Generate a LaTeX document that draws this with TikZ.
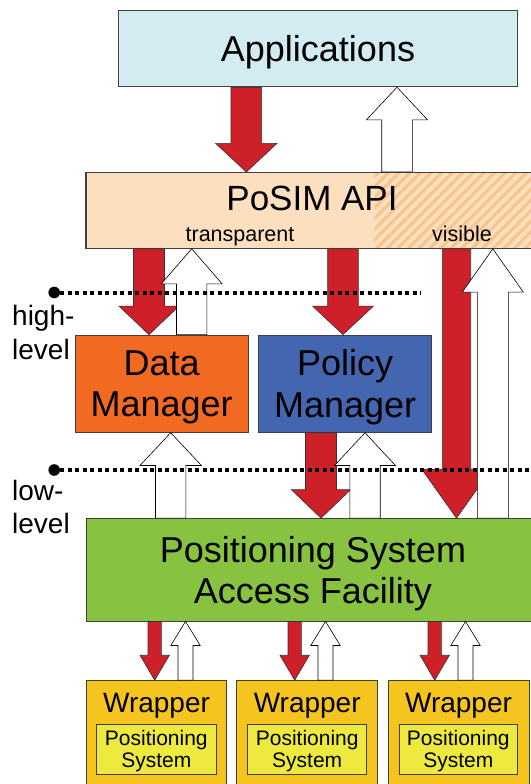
\documentclass[tikz,border=0pt]{standalone}
\usepackage{fontspec}
\setmainfont{Liberation Sans}
\usetikzlibrary{calc,patterns.meta}

\definecolor{appcol}{RGB}{210,236,241}
\definecolor{apicol}{RGB}{252,223,190}
\definecolor{hatchcol}{RGB}{248,196,142}
\definecolor{datacol}{RGB}{242,105,34}
\definecolor{policycol}{RGB}{68,101,175}
\definecolor{psafcol}{RGB}{135,194,64}
\definecolor{wrapcol}{RGB}{245,196,30}
\definecolor{pscol}{RGB}{238,233,62}
\definecolor{arrowred}{RGB}{206,32,41}

% block arrow: style, from, to, half shaft, half head, head length
\newcommand{\fatarrow}[6]{%
  \draw[#1] let \p1=(#2), \p2=(#3), \p3=($(#3)!#6!(#2)$) in
    (\x1-#4,\y1) -- (\x1-#4,\y3) -- (\x1-#5,\y3) -- (\x1,\y2)
    -- (\x1+#5,\y3) -- (\x1+#4,\y3) -- (\x1+#4,\y1) -- cycle;}

\tikzset{
  box/.style       = {draw=black!75, line width=0.8pt, inner sep=0pt, align=center, text depth=0pt},
  bigtext/.style   = {font=\fontsize{36}{41.7}\selectfont},
  smalltext/.style = {font=\fontsize{21.5}{24}\selectfont, inner sep=0pt},
  sidetext/.style  = {font=\fontsize{28}{33}\selectfont, inner sep=0pt},
  wraptext/.style  = {font=\fontsize{28}{32}\selectfont, inner sep=0pt},
  pstext/.style    = {font=\fontsize{21}{22.6}\selectfont},
  redarrow/.style  = {fill=arrowred, draw=black!80, line width=0.6pt},
  whitearrow/.style= {fill=white, draw=black, line width=0.6pt},
  dot/.style       = {circle, fill=black, inner sep=0pt, minimum size=11.6pt},
  levelline/.style = {line width=4pt, dash pattern=on 4pt off 3.5pt}
}

\begin{document}
\begin{tikzpicture}[x=1pt, y=-1pt]
  \useasboundingbox (0,0) rectangle (530,784);

  % layers
  \node[box, bigtext, fill=appcol, minimum width=399pt, minimum height=76pt] (app) at (318,48.8) {Applications};

  \node[box, fill=apicol, minimum width=454pt, minimum height=76pt] (api) at (313,210.4) {};
  \fill[pattern={Lines[angle=45,distance=7.5pt,line width=3pt]}, pattern color=hatchcol]
    ([xshift=289pt]api.north west) rectangle (api.south east);
  \draw[draw=black!75, line width=0.8pt] (api.north west) rectangle (api.south east);
  \node[font=\fontsize{35}{40}\selectfont, inner sep=0pt, anchor=base] (apititle) at (312,210.7) {PoSIM API};
  \node[smalltext, anchor=base] (transp) at (240,241) {transparent};
  \node[smalltext, anchor=base] (visib)  at (462,241) {visible};

  \node[box, bigtext, fill=datacol,   minimum width=173.5pt, minimum height=97.3pt] (dm) at (161.7,383.7) {Data\\Manager};
  \node[box, bigtext, fill=policycol, minimum width=173pt,   minimum height=97.3pt] (pm) at (345.2,383.7) {Policy\\Manager};

  \node[box, bigtext, fill=psafcol, minimum width=454pt, minimum height=102.5pt] (psaf) at (313,569.8) {Positioning System\\Access Facility};

  \node[box, fill=wrapcol, minimum width=140pt, minimum height=119.3pt] (w1) at (156.7,740.3) {};
  \node[box, fill=wrapcol, minimum width=141pt, minimum height=119.3pt] (w2) at (307.2,740.3) {};
  \node[box, fill=wrapcol, minimum width=140.7pt, minimum height=119.3pt] (w3) at (458.7,740.3) {};
  \node[wraptext, anchor=base] (w1t) at (156.5,712.7) {Wrapper};
  \node[wraptext, anchor=base] (w2t) at (307.2,712.7) {Wrapper};
  \node[wraptext, anchor=base] (w3t) at (458.5,712.7) {Wrapper};
  \node[box, pstext, fill=pscol, minimum width=119.3pt, minimum height=50pt] (ps1) at (156.3,749) {Positioning\\System};
  \node[box, pstext, fill=pscol, minimum width=119pt,   minimum height=50pt] (ps2) at (307.2,749) {Positioning\\System};
  \node[box, pstext, fill=pscol, minimum width=118.7pt, minimum height=50pt] (ps3) at (458.3,749) {Positioning\\System};

  % arrow columns
  \coordinate (appdown)  at (246.3,0);
  \coordinate (appup)    at (397,0);
  \coordinate (dmdown)   at (149,0);
  \coordinate (dmup)     at (191.7,0);
  \coordinate (pmdown)   at (343,0);
  \coordinate (visdown)  at (456.5,0);
  \coordinate (visup)    at (492.8,0);
  \coordinate (psdown)   at (321,0);
  \coordinate (psup)     at (365,0);
  \coordinate (psdmup)   at (170.7,0);
  \coordinate (w1down)   at (154.7,0);
  \coordinate (w2down)   at (294.7,0);
  \coordinate (w3down)   at (434.7,0);
  \coordinate (w1up)     at (185.5,0);
  \coordinate (w2up)     at (325.5,0);
  \coordinate (w3up)     at (465.5,0);

  % red arrows
  \fatarrow{redarrow}{app.south -| appdown}{api.north -| appdown}{15.3pt}{30.8pt}{28.7pt}
  \fatarrow{redarrow}{api.south -| dmdown}{dm.north -| dmdown}{15.5pt}{30pt}{28.5pt}
  \fatarrow{redarrow}{api.south -| pmdown}{pm.north -| pmdown}{15.3pt}{30.4pt}{28.5pt}
  \fatarrow{redarrow}{api.south -| visdown}{psaf.north -| visdown}{14.2pt}{34.8pt}{49pt}
  \fatarrow{redarrow}{pm.south -| psdown}{psaf.north -| psdown}{15.5pt}{29.7pt}{28.5pt}
  \fatarrow{redarrow}{psaf.south -| w1down}{w1.north -| w1down}{6.7pt}{14.7pt}{25pt}
  \fatarrow{redarrow}{psaf.south -| w2down}{w2.north -| w2down}{6.7pt}{14.7pt}{25pt}
  \fatarrow{redarrow}{psaf.south -| w3down}{w3.north -| w3down}{6.7pt}{14.7pt}{25pt}

  % white arrows
  \fatarrow{whitearrow}{api.north -| appup}{app.south -| appup}{15.3pt}{30.5pt}{32.6pt}
  \fatarrow{whitearrow}{dm.north -| dmup}{api.south -| dmup}{15.2pt}{30.4pt}{35pt}
  \fatarrow{whitearrow}{psaf.north -| visup}{api.south -| visup}{15.5pt}{30.5pt}{43.3pt}
  \fatarrow{whitearrow}{psaf.north -| psup}{pm.south -| psup}{15.2pt}{30.4pt}{32.7pt}
  \fatarrow{whitearrow}{psaf.north -| psdmup}{dm.south -| psdmup}{15.2pt}{30.7pt}{32.7pt}
  \fatarrow{whitearrow}{w1.north -| w1up}{psaf.south -| w1up}{7.5pt}{14.7pt}{24pt}
  \fatarrow{whitearrow}{w2.north -| w2up}{psaf.south -| w2up}{7.5pt}{14.7pt}{24pt}
  \fatarrow{whitearrow}{w3.north -| w3up}{psaf.south -| w3up}{7.5pt}{14.7pt}{24pt}

  % level lines
  \node[dot] (hidot) at (54.2,292.5) {};
  \coordinate (hiend) at (421,292.5);
  \draw[levelline] (hidot) -- (hiend);
  \node[dot] (lodot) at (54.2,470) {};
  \coordinate (loend) at (536,470);
  \draw[levelline] (lodot) -- (loend);

  \node[sidetext, anchor=base west] (hi1) at (12,325.7) {high-};
  \node[sidetext, anchor=base west] (hi2) at (12,359) {level};
  \node[sidetext, anchor=base west] (lo1) at (12,500) {low-};
  \node[sidetext, anchor=base west] (lo2) at (12,533) {level};
\end{tikzpicture}
\end{document}
